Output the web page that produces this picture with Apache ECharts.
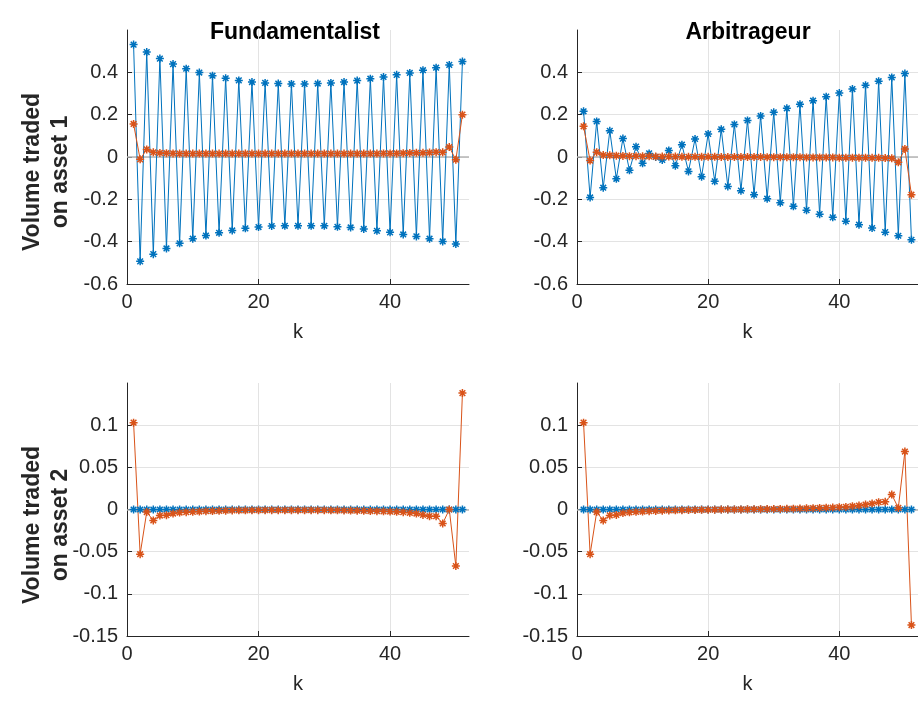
<!DOCTYPE html>
<html>
<head>
<meta charset="utf-8">
<script src="https://cdn.jsdelivr.net/npm/echarts@6/dist/echarts.min.js"></script>
<style>
html,body{margin:0;padding:0;background:#fff;}
#c{width:918px;height:702px;}
</style>
</head>
<body>
<div id="c"></div>
<script>
// ---- data ----
var K = [1,2,3,4,5,6,7,8,9,10,11,12,13,14,15,16,17,18,19,20,21,22,23,24,25,26,27,28,29,30,31,32,33,34,35,36,37,38,39,40,41,42,43,44,45,46,47,48,49,50,51];

var fund1Blue = [0.531,-0.493,0.496,-0.459,0.465,-0.432,0.439,-0.408,0.417,-0.386,0.399,-0.371,0.384,-0.358,0.372,-0.347,0.362,-0.337,0.354,-0.331,0.350,-0.326,0.347,-0.325,0.345,-0.325,0.345,-0.325,0.347,-0.325,0.350,-0.330,0.354,-0.333,0.361,-0.340,0.370,-0.349,0.378,-0.356,0.388,-0.366,0.397,-0.375,0.410,-0.386,0.422,-0.399,0.435,-0.411,0.451];
var fund1Orange = [0.156,-0.011,0.036,0.022,0.019,0.018,0.017,0.016,0.016,0.016,0.016,0.016,0.016,0.016,0.016,0.016,0.016,0.016,0.016,0.016,0.016,0.016,0.016,0.016,0.016,0.016,0.016,0.016,0.016,0.016,0.016,0.016,0.016,0.016,0.016,0.016,0.016,0.016,0.017,0.017,0.017,0.018,0.019,0.020,0.020,0.021,0.023,0.022,0.047,-0.013,0.200];

var arb1Blue = [0.216,-0.191,0.168,-0.145,0.124,-0.103,0.087,-0.063,0.049,-0.030,0.017,0.000,-0.014,0.031,-0.041,0.058,-0.068,0.085,-0.093,0.109,-0.115,0.131,-0.139,0.154,-0.159,0.173,-0.178,0.194,-0.197,0.211,-0.216,0.230,-0.233,0.249,-0.251,0.266,-0.270,0.285,-0.285,0.302,-0.303,0.321,-0.320,0.339,-0.336,0.358,-0.355,0.376,-0.372,0.394,-0.391];
var arb1Orange = [0.145,-0.017,0.023,0.009,0.008,0.006,0.005,0.004,0.004,0.003,0.003,0.002,0.002,0.002,0.002,0.001,0.001,0.001,0.001,0.001,0.001,0.000,0.000,0.000,0.000,0.000,0.000,0.000,-0.001,-0.001,-0.001,-0.001,-0.001,-0.001,-0.002,-0.002,-0.002,-0.002,-0.002,-0.003,-0.003,-0.003,-0.003,-0.003,-0.004,-0.004,-0.005,-0.006,-0.025,0.038,-0.178];

var fund2Blue = [0,0,0,0,0,0,0,0,0,0,0,0,0,0,0,0,0,0,0,0,0,0,0,0,0,0,0,0,0,0,0,0,0,0,0,0,0,0,0,0,0,0,0,0,0,0,0,0,0,0,0];
var fund2Orange = [0.103,-0.053,-0.003,-0.013,-0.0072,-0.0068,-0.0048,-0.0036,-0.0032,-0.0028,-0.0024,-0.0020,-0.0018,-0.0016,-0.0014,-0.0012,-0.0010,-0.0010,-0.0009,-0.0008,-0.0008,-0.0008,-0.0008,-0.0008,-0.0008,-0.0008,-0.0008,-0.0008,-0.0008,-0.0008,-0.0010,-0.0010,-0.0012,-0.0013,-0.0014,-0.0016,-0.0018,-0.0020,-0.0022,-0.0024,-0.0028,-0.0032,-0.0040,-0.0048,-0.0064,-0.0079,-0.0080,-0.0166,0.0000,-0.067,0.138];

var arb2Blue = [0,0,0,0,0,0,0,0,0,0,0,0,0,0,0,0,0,0,0,0,0,0,0,0,0,0,0,0,0,0,0,0,0,0,0,0,0,0,0,0,0,0,0,0,0,0,0,0,0,0,0];
var arb2Orange = [0.103,-0.053,-0.003,-0.013,-0.007,-0.0064,-0.0042,-0.0033,-0.0028,-0.0024,-0.0020,-0.0017,-0.0014,-0.0012,-0.0010,-0.0008,-0.0006,-0.0005,-0.0004,-0.0003,-0.0002,-0.0001,0.0000,0.0000,0.0001,0.0002,0.0003,0.0004,0.0005,0.0006,0.0007,0.0008,0.0010,0.0012,0.0014,0.0016,0.0019,0.0021,0.0023,0.0027,0.0031,0.0039,0.0047,0.0059,0.0071,0.0087,0.0091,0.0177,0.0019,0.0687,-0.137];

var titles = ['Fundamentalist', 'Arbitrageur'];
var yNames = ['Volume traded\non asset 1', 'Volume traded\non asset 2'];
var xTicks = [0, 20, 40];

// ---- styling ----
var BLUE = '#0072BD', ORANGE = '#D95319', AX = '#262626', GRIDC = '#e3e3e3';
var FONT = 'Liberation Sans, Arial, Helvetica, sans-serif';
var STAR = 'path://M5,0L5,10M0,5L10,5M1.46,1.46L8.54,8.54M1.46,8.54L8.54,1.46';

function pairs(v){ return K.map(function(k,i){ return [k, v[i]]; }); }

var grids = [
  {left:127, top:30, width:342, height:254},
  {left:577, top:30, width:343, height:254},
  {left:127, top:383, width:342, height:253},
  {left:577, top:383, width:343, height:253}
];

function xAx(i){
  return {
    type:'value', gridIndex:i, min:0, max:52, interval:20,
    name:'k', nameLocation:'middle', nameGap:38,
    nameTextStyle:{fontFamily:FONT, fontSize:20, color:AX},
    axisLine:{show:true, onZero:false, lineStyle:{color:AX, width:1}},
    axisTick:{show:true, inside:true, length:5, lineStyle:{color:AX}},
    axisLabel:{show:true, showMaxLabel:false, margin:8, fontFamily:FONT, fontSize:20, color:AX,
      formatter:function(v){ return xTicks.indexOf(v) >= 0 ? String(v) : ''; }},
    splitLine:{show:true, showMinLine:false, showMaxLine:false, lineStyle:{color:GRIDC, width:1}}
  };
}
function yAx(i, top){
  var o = {
    type:'value', gridIndex:i,
    axisLine:{show:true, onZero:false, lineStyle:{color:AX, width:1}},
    axisTick:{show:true, inside:true, length:5, lineStyle:{color:AX}},
    axisLabel:{show:true, showMaxLabel:false, margin:9, fontFamily:FONT, fontSize:20, color:AX},
    splitLine:{show:true, showMinLine:false, showMaxLine:false, lineStyle:{color:GRIDC, width:1}}
  };
  if (top){ o.min = -0.6; o.max = 0.6; o.interval = 0.2; }
  else { o.min = -0.15; o.max = 0.15; o.interval = 0.05; }
  return o;
}
function ser(i, data, color, zeroLine){
  var s = {
    type:'line', xAxisIndex:i, yAxisIndex:i, data:pairs(data),
    symbol:STAR, symbolSize:8, showAllSymbol:true,
    lineStyle:{color:color, width:1},
    itemStyle:{color:color, borderColor:color, borderWidth:1.5},
    emphasis:{disabled:true}, z:3
  };
  if (zeroLine){
    s.markLine = {silent:true, symbol:'none', label:{show:false},
      lineStyle:{color:'#b5b5b5', width:1.5, type:'solid'},
      data:[{yAxis:0}], z:1};
  }
  return s;
}

var option = {
  animation:false,
  backgroundColor:'#ffffff',
  grid:grids,
  xAxis:[xAx(0), xAx(1), xAx(2), xAx(3)],
  yAxis:[yAx(0,true), yAx(1,true), yAx(2,false), yAx(3,false)],
  series:[
    ser(0, fund1Blue, BLUE, true), ser(0, fund1Orange, ORANGE, false),
    ser(1, arb1Blue, BLUE, true), ser(1, arb1Orange, ORANGE, false),
    ser(2, fund2Blue, BLUE, true), ser(2, fund2Orange, ORANGE, false),
    ser(3, arb2Blue, BLUE, true), ser(3, arb2Orange, ORANGE, false)
  ],
  graphic:[
    {type:'text', x:295, y:21, style:{text:titles[0], textAlign:'center', textVerticalAlign:'alphabetic', font:'bold 23px ' + FONT, fill:'#000'}},
    {type:'text', x:748, y:21, style:{text:titles[1], textAlign:'center', textVerticalAlign:'alphabetic', font:'bold 23px ' + FONT, fill:'#000'}},
    {type:'text', x:47, y:172, rotation:Math.PI/2, style:{text:yNames[0], textAlign:'center', textVerticalAlign:'middle', lineHeight:28, font:'bold 23px ' + FONT, fill:'#262626'}},
    {type:'text', x:47, y:525, rotation:Math.PI/2, style:{text:yNames[1], textAlign:'center', textVerticalAlign:'middle', lineHeight:28, font:'bold 23px ' + FONT, fill:'#262626'}}
  ]
};

var chart = echarts.init(document.getElementById('c'), null, {renderer:'canvas'});
chart.setOption(option);
</script>
</body>
</html>
